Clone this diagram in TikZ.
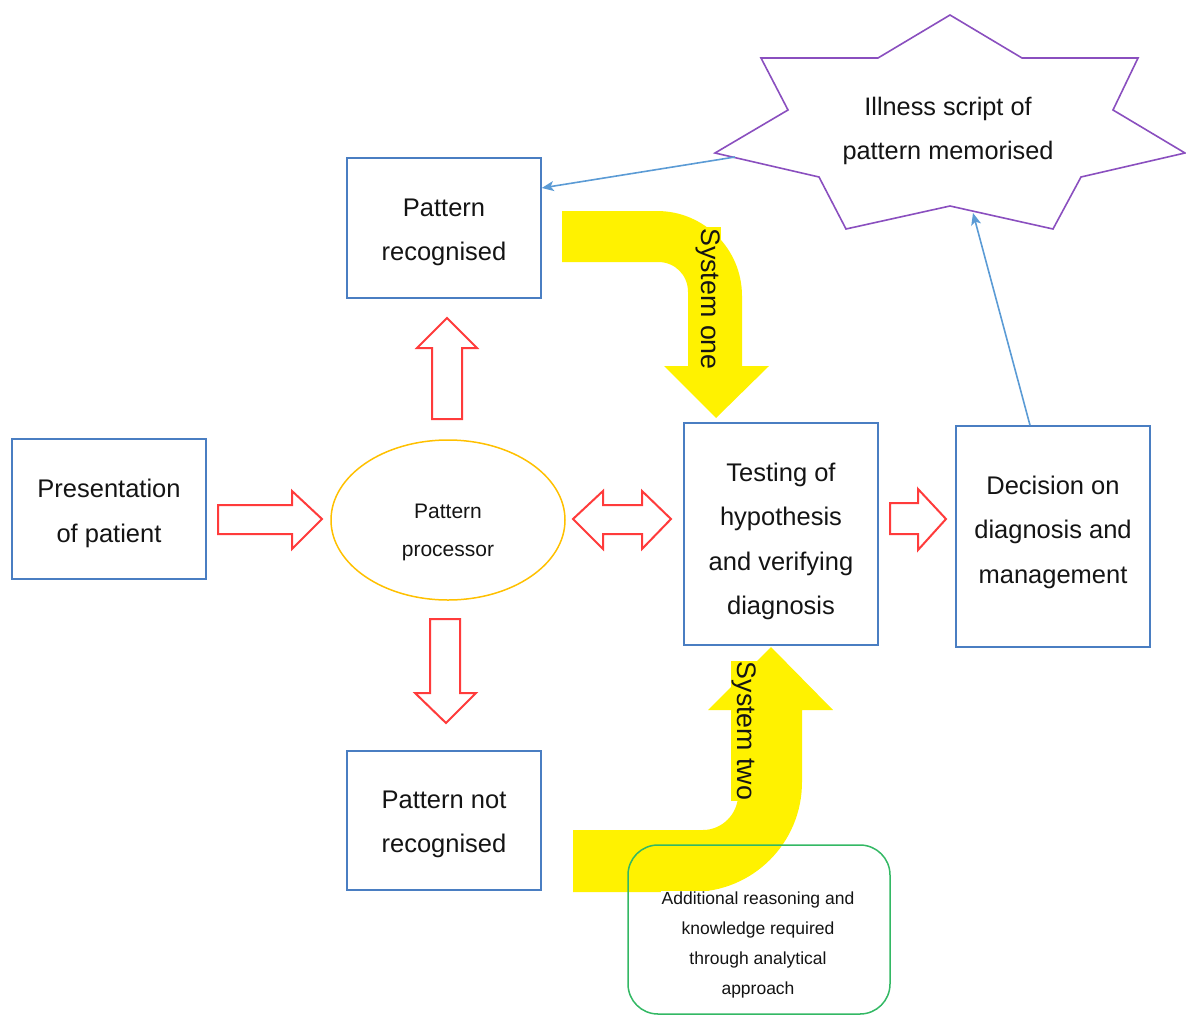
\documentclass[tikz,border=0pt]{standalone}
\usepackage{fontspec}
\setmainfont{Liberation Sans}
\usetikzlibrary{shapes.geometric,arrows.meta}
\definecolor{boxblue}{HTML}{4A7EC2}
\definecolor{linkblue}{HTML}{5B9BD5}
\definecolor{blockred}{HTML}{FF3B3B}
\definecolor{gold}{HTML}{FFC000}
\definecolor{starpurple}{HTML}{8A4FBF}
\definecolor{notegreen}{HTML}{33B864}
\definecolor{ink}{HTML}{141414}
\begin{document}
\begin{tikzpicture}[x=1pt,y=-1pt,
  box/.style={draw=boxblue,line width=1.5pt,minimum width=194pt,inner sep=0pt},
  boxtext/.style={align=center,text=ink,inner sep=0pt,font=\fontsize{25.5}{44.5}\selectfont},
  blockarrow/.style={draw=blockred,fill=white,line width=2pt,line join=miter},
  sysarrow/.style={fill=yellow},
  systext/.style={fill=yellow,inner sep=1pt,text=ink,rotate=-90,
    font=\fontsize{26.8}{30}\selectfont},
  link/.style={draw=linkblue,line width=1.6pt,-{Stealth[length=12pt,width=10pt,inset=3pt]}},
  starline/.style={draw=starpurple,line width=1.6pt,fill=white,line join=miter}]
\useasboundingbox (0,0) rectangle (1186,1017);

% boxes
\node[box,minimum height=140pt] (pres) at (109,509) {};
\node[box,minimum height=140pt] (prec) at (444,228) {};
\node[box,minimum height=139pt] (pnot) at (444,820.5) {};
\node[box,minimum height=222pt] (test) at (781,534) {};
\node[box,minimum height=221pt] (dec) at (1053,536.5) {};
\node[boxtext] (prestext) at (109,513.5) {Presentation\\of patient};
\node[boxtext] (prectext) at (444,232.5) {Pattern\\recognised};
\node[boxtext] (pnottext) at (444,824.5) {Pattern not\\recognised};
\node[boxtext] (testtext) at (781,541.5) {Testing of\\hypothesis\\and verifying\\diagnosis};
\node[boxtext] (dectext) at (1053,532) {Decision on\\diagnosis and\\management};

% pattern processor
\node[draw=gold,ellipse,line width=1.5pt,minimum width=234pt,minimum height=160pt,
  inner sep=0pt] (proc) at (448,520) {};
\node[align=center,text=ink,inner sep=0pt,font=\fontsize{21}{38}\selectfont]
  (proctext) at (448,532.5) {Pattern\\processor};

% seven-point star with the illness script
\draw[starline] (950,15) -- (1022,58) -- (1138,58) -- (1113,110) -- (1185,153)
  -- (1081,177) -- (1053,229) -- (950,206) -- (846,229) -- (819,177)
  -- (715,153) -- (788,110) -- (761,58) -- (878,58) -- cycle;
\node[align=center,text=ink,inner sep=0pt,font=\fontsize{25.3}{44}\selectfont]
  (star) at (948,131) {Illness script of\\pattern memorised};

% block arrows
\draw[blockarrow] (432,419) -- (432,348) -- (417,348) -- (447,318) -- (477,348)
  -- (462,348) -- (462,419) -- cycle;
\draw[blockarrow] (430,619) -- (460,619) -- (460,693) -- (476,693) -- (446,723)
  -- (415,693) -- (430,693) -- cycle;
\draw[blockarrow] (218,505) -- (292,505) -- (292,491) -- (322,519) -- (292,549)
  -- (292,534) -- (218,534) -- cycle;
\draw[blockarrow] (573,519) -- (603,491) -- (603,505) -- (642,505) -- (642,491)
  -- (671,519) -- (642,549) -- (642,534) -- (603,534) -- (603,549) -- cycle;
\draw[blockarrow] (890,503) -- (918,503) -- (918,489) -- (946,519) -- (918,550)
  -- (918,534) -- (890,534) -- cycle;

% system one: bent arrow from the recognised pattern down to testing
\fill[sysarrow] (562,211) -- (657,211) .. controls (704,211) and (742,249) .. (742,296)
  -- (742,366) -- (769,366) -- (716,418) -- (664,366) -- (688,366) -- (688,292)
  .. controls (688,275) and (675,262) .. (658,262) -- (562,262) -- cycle;
\node[systext] (sysone) at (708,299) {System one};

% system two: bent arrow from the unrecognised pattern up to testing
\fill[sysarrow] (573,892) -- (692,892) .. controls (753,892) and (802,843) .. (802,782)
  -- (802,710) -- (833,710) -- (771,647) -- (708,710) -- (738,710) -- (738,795)
  .. controls (738,814) and (722,830) .. (703,830) -- (573,830) -- cycle;
\node[systext] (systwo) at (744,731) {System two};

% analytical approach note
\node[draw=notegreen,line width=1.5pt,rounded corners=30pt,minimum width=262pt,
  minimum height=169pt,inner sep=0pt] (note) at (759,929.5) {};
\node[fill=white,align=center,text=ink,inner sep=1pt,font=\fontsize{17.5}{29.7}\selectfont]
  (notetext) at (758,945) {Additional reasoning and\\knowledge required\\through analytical\\approach};

% memory links
\coordinate (starL) at (735,157);
\coordinate (starB) at (973,213);
\draw[link] (starL) -- ([yshift=40pt]prec.east);
\draw[link] ([xshift=-23pt]dec.north) -- (starB);
\end{tikzpicture}
\end{document}
